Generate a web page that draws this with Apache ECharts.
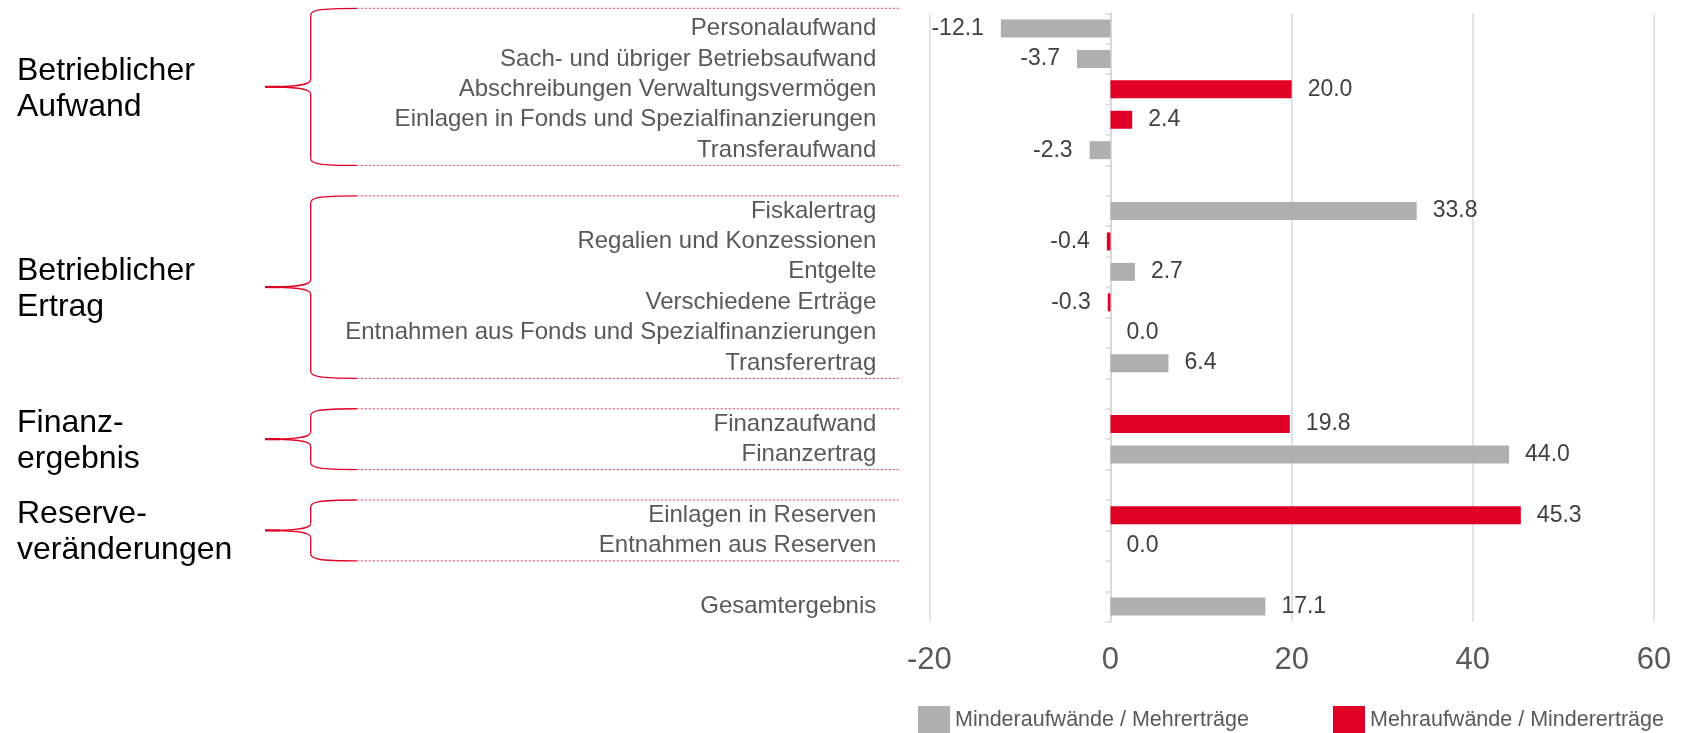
<!DOCTYPE html>
<html>
<head>
<meta charset="utf-8">
<script src="https://cdn.jsdelivr.net/npm/echarts@6/dist/echarts.min.js"></script>
<style>
html,body{margin:0;padding:0;background:#fff;}
#chart{width:1686px;height:733px;}
</style>
</head>
<body>
<div id="chart"></div>
<script>
// ---- data ----
const categories = [
  'Personalaufwand',
  'Sach- und übriger Betriebsaufwand',
  'Abschreibungen Verwaltungsvermögen',
  'Einlagen in Fonds und Spezialfinanzierungen',
  'Transferaufwand',
  '',
  'Fiskalertrag',
  'Regalien und Konzessionen',
  'Entgelte',
  'Verschiedene Erträge',
  'Entnahmen aus Fonds und Spezialfinanzierungen',
  'Transferertrag',
  '',
  'Finanzaufwand',
  'Finanzertrag',
  '',
  'Einlagen in Reserven',
  'Entnahmen aus Reserven',
  '',
  'Gesamtergebnis'
];
// gray: Minderaufwände / Mehrerträge
const grayValues = [-12.1, -3.7, null, null, -2.3, null, 33.8, null, 2.7, null, 0.0, 6.4, null, null, 44.0, null, null, 0.0, null, 17.1];
// red: Mehraufwände / Mindererträge
const redValues  = [null, null, 20.0, 2.4, null, null, null, -0.4, null, -0.3, null, null, null, 19.8, null, null, 45.3, null, null, null];
const seriesNames = ['Minderaufwände / Mehrerträge', 'Mehraufwände / Mindererträge'];
const xTicks = { min: -20, max: 60, interval: 20 };
const groups = [
  { label: 'Betrieblicher\nAufwand', first: 0, last: 4 },
  { label: 'Betrieblicher\nErtrag', first: 6, last: 11 },
  { label: 'Finanz-\nergebnis', first: 13, last: 14 },
  { label: 'Reserve-\nveränderungen', first: 16, last: 17 }
];

// ---- styles ----
const FONT = 'Liberation Sans, Arial, Helvetica, sans-serif';
const GRAY = '#AFAFAF';
const RED = '#E00025';
const GRID_C = '#D9D9D9';

function toItems(arr) {
  return arr.map(v => {
    if (v === null) return '-';
    return {
      value: v,
      label: v < 0 ? { position: 'left', distance: 17 } : { position: 'right', distance: 16 }
    };
  });
}

const chart = echarts.init(document.getElementById('chart'));
const labelCfg = {
  show: true,
  fontFamily: FONT,
  fontSize: 23,
  color: '#404040',
  formatter: p => Number(p.value).toFixed(1)
};

chart.setOption({
  animation: false,
  textStyle: { fontFamily: FONT },
  grid: { left: 929.3, right: 32, top: 13.3, bottom: 111.3, containLabel: false },
  legend: {
    left: 913, top: 701,
    itemWidth: 32, itemHeight: 28, itemGap: 84,
    icon: 'rect',
    textStyle: { fontFamily: FONT, fontSize: 21.5, color: '#595959' },
    data: seriesNames
  },
  xAxis: {
    type: 'value',
    min: xTicks.min, max: xTicks.max, interval: xTicks.interval,
    axisLine: { show: false },
    axisTick: { show: false },
    splitLine: { show: true, lineStyle: { color: GRID_C, width: 1.5 } },
    axisLabel: { fontFamily: FONT, fontSize: 31, color: '#595959', margin: 23 }
  },
  yAxis: [
    {
      type: 'category', inverse: true, data: categories, position: 'left',
      axisLine: { show: false, onZero: false },
      axisTick: { show: false },
      axisLabel: { interval: 0, fontFamily: FONT, fontSize: 24, color: '#595959', margin: 53 }
    },
    {
      type: 'category', inverse: true, data: categories, position: 'right',
      axisLine: { show: true, onZero: true, lineStyle: { color: GRID_C, width: 2 } },
      axisTick: { show: true, interval: 0, inside: true, length: 5, lineStyle: { color: GRID_C, width: 1.5 } },
      axisLabel: { show: false }
    }
  ],
  series: [
    {
      name: seriesNames[0], type: 'bar', yAxisIndex: 0,
      barWidth: 18, barGap: '-100%',
      itemStyle: { color: GRAY },
      label: labelCfg,
      data: toItems(grayValues)
    },
    {
      name: seriesNames[1], type: 'bar', yAxisIndex: 0,
      barWidth: 18, barGap: '-100%',
      itemStyle: { color: RED },
      label: labelCfg,
      data: toItems(redValues)
    }
  ]
});

// ---- group braces, positioned from the category axis ----
const c0 = chart.convertToPixel({ yAxisIndex: 0 }, 0);
const c1 = chart.convertToPixel({ yAxisIndex: 0 }, 1);
const band = c1 - c0;
const XV = 310.7, XT = 265, XH = 356.7, XEND = 900;
const graphics = [];
const lineStyle = { stroke: RED, lineWidth: 1.3, fill: null };
groups.forEach((g, i) => {
  const yt = chart.convertToPixel({ yAxisIndex: 0 }, g.first) - band / 2 - (i === 0 ? 5 : 0);
  const yb = chart.convertToPixel({ yAxisIndex: 0 }, g.last) + band / 2;
  const ym = (yt + yb) / 2;
  // dotted horizontal lines
  [yt, yb].forEach(y => graphics.push({
    type: 'line', silent: true,
    shape: { x1: XH, y1: y, x2: XEND, y2: y },
    style: { stroke: RED, lineWidth: 1, lineDash: [2, 2], opacity: 0.8 }
  }));
  // top corner
  graphics.push({ type: 'bezierCurve', silent: true,
    shape: { x1: XH, y1: yt, cpx1: 318, cpy1: yt, cpx2: XV, cpy2: yt + 2, x2: XV, y2: yt + 7 },
    style: lineStyle });
  // upper vertical
  graphics.push({ type: 'line', silent: true,
    shape: { x1: XV, y1: yt + 7, x2: XV, y2: ym - 7 }, style: lineStyle });
  // to tip
  graphics.push({ type: 'bezierCurve', silent: true,
    shape: { x1: XV, y1: ym - 7, cpx1: XV, cpy1: ym - 1, cpx2: 292, cpy2: ym, x2: XT, y2: ym },
    style: lineStyle });
  graphics.push({ type: 'line', silent: true,
    shape: { x1: XT, y1: ym, x2: XT + 15, y2: ym }, style: { stroke: RED, lineWidth: 2.2 } });
  // from tip
  graphics.push({ type: 'bezierCurve', silent: true,
    shape: { x1: XT, y1: ym, cpx1: 292, cpy1: ym, cpx2: XV, cpy2: ym + 1, x2: XV, y2: ym + 7 },
    style: lineStyle });
  // lower vertical
  graphics.push({ type: 'line', silent: true,
    shape: { x1: XV, y1: ym + 7, x2: XV, y2: yb - 7 }, style: lineStyle });
  // bottom corner
  graphics.push({ type: 'bezierCurve', silent: true,
    shape: { x1: XV, y1: yb - 7, cpx1: XV, cpy1: yb - 2, cpx2: 318, cpy2: yb, x2: XH, y2: yb },
    style: lineStyle });
  // group label
  graphics.push({ type: 'text', silent: true, x: 17, y: ym + 2,
    style: { text: g.label, fontFamily: FONT, fontSize: 32, lineHeight: 36,
             fill: '#000', verticalAlign: 'middle', align: 'left' } });
});
chart.setOption({ graphic: graphics });
</script>
</body>
</html>
